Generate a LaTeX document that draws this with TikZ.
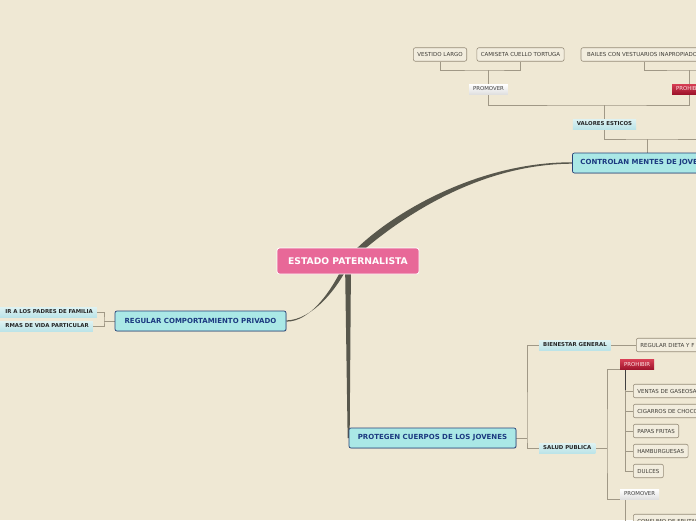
\documentclass[tikz,border=0pt]{standalone}
\usepackage{fontspec}
\setmainfont{DejaVu Sans}
\usepackage{xcolor}
\usepackage{tikz}
\usetikzlibrary{backgrounds,shadows}

\definecolor{paper}{RGB}{239,232,212}
\definecolor{trunk}{RGB}{88,87,76}
\definecolor{twig}{RGB}{160,152,134}
\definecolor{rootpink}{RGB}{232,104,152}
\definecolor{topicfill}{RGB}{170,232,230}
\definecolor{topicline}{RGB}{38,66,120}
\definecolor{topictext}{RGB}{28,58,128}
\definecolor{lbltop}{RGB}{222,242,242}
\definecolor{lblbot}{RGB}{188,228,232}
\definecolor{redtop}{RGB}{214,62,84}
\definecolor{redbot}{RGB}{158,20,44}
\definecolor{leafline}{RGB}{150,140,120}
\definecolor{leaffill}{RGB}{242,237,222}
\definecolor{leaftext}{RGB}{62,60,54}

\begin{document}
\begin{tikzpicture}[x=1pt,y=-1pt,
    every node/.style={inner ysep=0pt},
    root/.style={fill=rootpink,draw=white,line width=0.8pt,rounded corners=2.5pt,
      text=white,font=\fontsize{9.2}{10}\selectfont\bfseries,minimum height=26pt,minimum width=142pt},
    topic/.style={fill=topicfill,draw=topicline,line width=0.7pt,rounded corners=2pt,
      text=topictext,font=\fontsize{7}{8}\selectfont\bfseries,minimum height=20pt,inner xsep=8pt,
      drop shadow={opacity=0.25,shadow xshift=0.8pt,shadow yshift=-0.8pt}},
    lbl/.style={top color=lbltop,bottom color=lblbot,text=black!85,
      font=\fontsize{5.4}{6}\selectfont\bfseries,minimum height=10pt,inner xsep=4pt},
    promo/.style={top color=white,bottom color=black!12,text=black!75,
      font=\fontsize{5.4}{6}\selectfont,minimum height=10pt,inner xsep=4pt},
    prohib/.style={top color=redtop,bottom color=redbot,text=white!90!red,
      font=\fontsize{5.4}{6}\selectfont,minimum height=10pt,inner xsep=4pt},
    leaf/.style={fill=leaffill,draw=leafline,line width=0.6pt,rounded corners=2pt,
      text=leaftext,font=\fontsize{5.5}{6}\selectfont,minimum height=13.5pt,inner xsep=4pt},
    link/.style={draw=twig,line width=0.8pt}]
  \useasboundingbox (0,0) rectangle (696,520);

  % central topic and main branches
  \node[root] (estado) at (348,261) {ESTADO PATERNALISTA};
  \node[topic,minimum width=148pt] (controlan) at (647,163) {CONTROLAN MENTES DE JOVENES};
  \node[topic,minimum width=171pt] (regular) at (200.5,321) {REGULAR COMPORTAMIENTO PRIVADO};
  \node[topic,minimum width=167pt] (protegen) at (432.5,438) {PROTEGEN CUERPOS DE LOS JOVENES};

  % upper part
  \node[lbl] (valores) at (604.5,124) {VALORES ESTICOS};
  \node[promo] (promover1) at (488.5,89) {PROMOVER};
  \node[prohib] (prohibir1) at (689,89) {PROHIBIR};
  \node[leaf] (vestido) at (440,54.5) {VESTIDO LARGO};
  \node[leaf] (camiseta) at (520.5,54.5) {CAMISETA CUELLO TORTUGA};
  \node[leaf,minimum width=126pt] (bailes) at (644,54.5) {BAILES CON VESTUARIOS INAPROPIADOS};

  % left part
  \node[lbl,anchor=east,text width=110pt,align=right] (sustituir) at (97,312) {IR A LOS PADRES DE FAMILIA};
  \node[lbl,anchor=east,text width=110pt,align=right] (formas) at (93,326) {RMAS DE VIDA PARTICULAR};

  % lower part
  \node[lbl,anchor=west] (bienestar) at (539,345) {BIENESTAR GENERAL};
  \node[lbl,anchor=west] (salud) at (539,448) {SALUD PUBLICA};
  \node[leaf,anchor=west] (regdieta) at (636,345) {REGULAR DIETA Y F};
  \node[prohib,anchor=west] (prohibir2) at (620,364.5) {PROHIBIR};
  \node[promo,anchor=west] (promover2) at (620,494) {PROMOVER};
  \foreach \n/\t/\y in {ventas/VENTAS DE GASEOSAS/391,cigarros/CIGARROS DE CHOCOLATE/411,
      papas/PAPAS FRITAS/431,hamburguesas/HAMBURGUESAS/451,dulces/DULCES/471}
    \node[leaf,anchor=west] (\n) at (633,\y) {\t};
  \node[leaf,anchor=west] (consumo) at (633,521) {CONSUMO DE FRUTAS};

  \begin{scope}[on background layer]
    \fill[paper] (0,0) rectangle (696,520);
    % tapered branches
    \fill[trunk] ([xshift=-3pt]estado.center) .. controls (377,222) and (470,162) .. ([yshift=0.7pt]controlan.west)
      -- ([yshift=-0.7pt]controlan.west) .. controls (470,164) and (387,228) .. ([xshift=3pt]estado.center) -- cycle;
    \fill[trunk] ([xshift=-2.5pt]estado.center) .. controls (332,291) and (310,322) .. ([yshift=-0.6pt]regular.east)
      -- ([yshift=0.6pt]regular.east) .. controls (312,320) and (338,289) .. ([xshift=2.5pt]estado.center) -- cycle;
    \fill[trunk] ([xshift=-3pt]estado.center) -- ([xshift=-1pt]protegen.west)
      -- ([xshift=1pt]protegen.west) -- ([xshift=3pt]estado.center) -- cycle;

    % upper links
    \coordinate (cj) at (647,139);
    \coordinate (vtop) at (604.5,105);
    \coordinate (pm1j) at (488.5,70);
    \coordinate (ph1j) at (689,70);
    \draw[link] (controlan.north) -- (cj);
    \draw[link] (710,139) -- (cj) -| (vtop);
    \draw[link] (pm1j) |- (vtop) -| (ph1j);
    \draw[link] (vestido.south) |- (pm1j) -| (camiseta.south);
    \draw[link] (bailes.south) |- (ph1j) -- (710,70);

    % left links
    \coordinate (rj) at (104,321);
    \draw[link] (regular.west) -- (rj);
    \draw[link] (sustituir.east) -| (rj) |- (formas.east);

    % lower links
    \coordinate (pj) at (527,438);
    \coordinate (sj) at (607,448);
    \draw[link] (protegen.east) -- (pj);
    \draw[link] (bienestar.west) -| (pj) |- (salud.west);
    \draw[link] (bienestar.east) -- (regdieta.west);
    \draw[link] (salud.east) -- (sj);
    \draw[link] (prohibir2.south west) -| (sj) |- (promover2.south west);
    \coordinate (pb) at ([xshift=5pt]prohibir2.south west);
    \foreach \n in {ventas,cigarros,papas,hamburguesas,dulces}
      \draw[link] (pb) |- (\n.west);
    \draw[link,draw=black!75] (pb) -- ++(0,20);
    \draw[link] ([xshift=5pt]promover2.south west) |- (consumo.west);
  \end{scope}
\end{tikzpicture}
\end{document}
